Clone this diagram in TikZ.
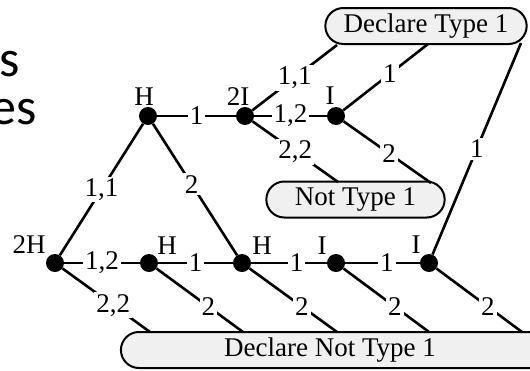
\documentclass[tikz,border=0pt]{standalone}
\usepackage{fontspec}
\setmainfont{Liberation Serif}
\newfontfamily\slidefont{Carlito}
\usepackage{tikz}
\usetikzlibrary{shapes.misc}
\definecolor{boxgray}{gray}{0.94}
\newcommand{\move}[4][]
{
	% one action, label sits on the line
	\path [draw, line width=2.6pt] (#2) -- node [act, #1] {#4} (#3);
}
\newcommand{\player}[5][]{
	\node [dot, label={[who, #1]above:#5}] (#2) at (#3, #4) {};
}

\begin{document}
\begin{tikzpicture}[x=1pt, y=-1pt, font=\fontsize{27}{32}\selectfont,
	dot/.style={circle, fill=black, minimum size=18pt, inner sep=0pt},
	who/.style={inner sep=0pt},
	act/.style={fill=white, inner sep=2pt},
	outcome/.style={draw, line width=2pt, fill=boxgray, rounded rectangle,
		minimum height=36pt}]
		\useasboundingbox (0,0) rectangle (530,370);
		\node [anchor=base east, inner sep=0pt, font=\slidefont\fontsize{52}{56}\selectfont] (tails) at (20,76) {s};
		\node [anchor=base east, inner sep=0pt, font=\slidefont\fontsize{52}{56}\selectfont] (tailes) at (37,124) {es};
		\node [outcome, minimum width=208pt] (dec) at (426,26) {Declare Type 1};
		\node [outcome, minimum width=185pt] (notone) at (355.5,199.5) {Not Type 1};
		\node [outcome, rounded rectangle right arc=none, minimum width=420pt] (decnot) at (330,350) {Declare Not Type 1};
		\player[xshift=-4pt, yshift=1pt]{hT}{148}{116}{H}
		\player[xshift=-7pt, yshift=1pt]{iiT}{245}{116}{2I}
		\player[xshift=-6pt, yshift=2pt]{iT}{336}{116}{I}
		\player[xshift=-26pt, yshift=0pt]{hhB}{55}{263}{2H}
		\player[xshift=18pt, yshift=-1pt]{hB}{149}{263}{H}
		\player[xshift=20pt, yshift=-1pt]{hC}{242}{263}{H}
		\player[xshift=-14pt, yshift=-1pt]{iB}{336}{263}{I}
		\player[xshift=-13pt, yshift=0pt]{iC}{429}{263}{I}
		% where the lines meet the boxes
		\coordinate (decA) at (337,45);
		\coordinate (decB) at (428,44);
		\coordinate (decC) at (521,43);
		\coordinate (notA) at (338,182);
		\coordinate (notB) at (431,183);
		\coordinate (dnA) at (150,332);
		\coordinate (dnB) at (243,332);
		\coordinate (dnC) at (337,332);
		\coordinate (dnD) at (429,332);
		\coordinate (dnE) at (522,332);
		\move{hT}{iiT}{1}
		\move{hhB}{hT}{1,1}
		\move[pos=0.46]{hT}{hC}{2}
		\move{iiT}{decA}{1,1}
		\move{iiT}{iT}{1,2}
		\move{iiT}{notA}{2,2}
		\move[pos=0.55]{iT}{decB}{1}
		\move[pos=0.52]{iT}{notB}{2}
		\move{iC}{decC}{1}
		\move{hhB}{hB}{1,2}
		\move{hB}{hC}{1}
		\move[pos=0.6]{hC}{iB}{1}
		\move[pos=0.56]{iB}{iC}{1}
		\move[pos=0.58]{hhB}{dnA}{2,2}
		\move[pos=0.6]{hB}{dnB}{2}
		\move[pos=0.6]{hC}{dnC}{2}
		\move[pos=0.6]{iB}{dnD}{2}
		\move[pos=0.6]{iC}{dnE}{2}
		\end{tikzpicture}
\end{document}
